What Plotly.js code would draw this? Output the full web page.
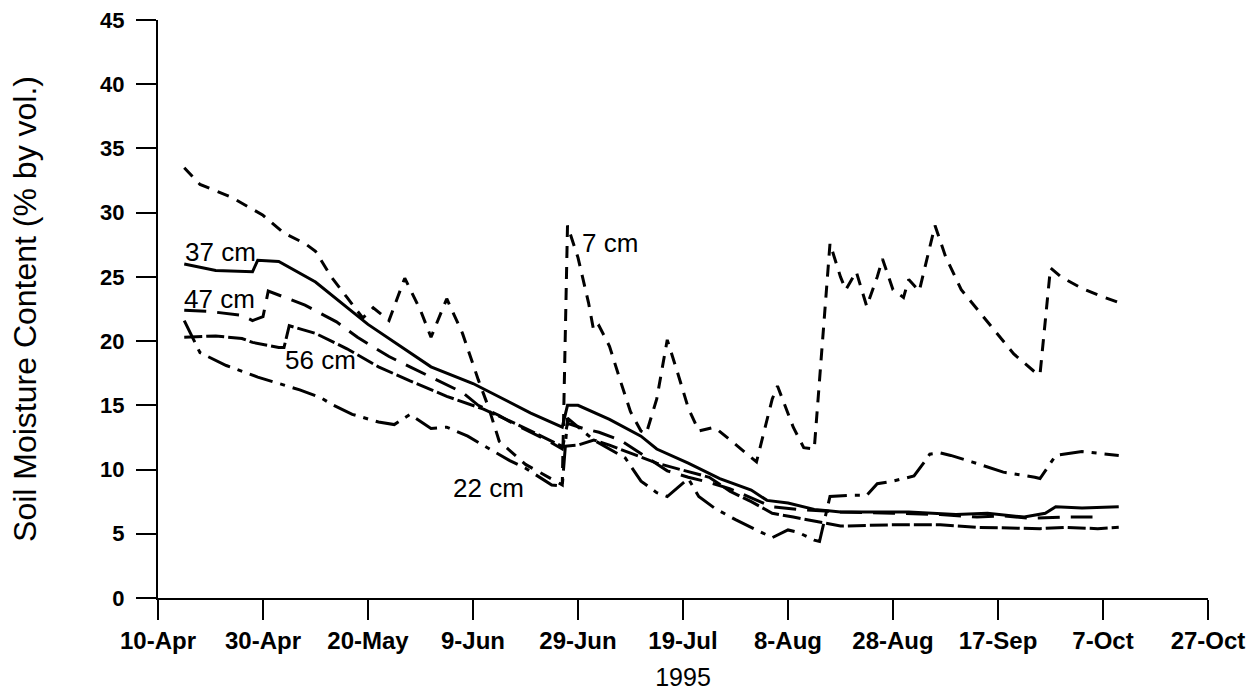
<!DOCTYPE html>
<html>
<head>
<meta charset="utf-8">
<script src="https://cdn.plot.ly/plotly-3.0.1.min.js"></script>
<style>
html,body{margin:0;padding:0;background:#fff;}
#chart{width:1260px;height:695px;}
</style>
</head>
<body>
<div id="chart"></div>
<script>
// ---- data (1995 soil moisture, % by volume) ----
const tickDates = ['1995-04-10','1995-04-30','1995-05-20','1995-06-09','1995-06-29','1995-07-19','1995-08-08','1995-08-28','1995-09-17','1995-10-07','1995-10-27'];
const tickLabels = ['10-Apr','30-Apr','20-May','9-Jun','29-Jun','19-Jul','8-Aug','28-Aug','17-Sep','7-Oct','27-Oct'];

const dates7 = ['1995-04-15','1995-04-18','1995-04-24','1995-04-30','1995-05-04','1995-05-08','1995-05-10','1995-05-13','1995-05-16','1995-05-19','1995-05-21','1995-05-24','1995-05-27','1995-05-30','1995-06-01','1995-06-04','1995-06-07','1995-06-10','1995-06-12','1995-06-14','1995-06-19','1995-06-25','1995-06-26','1995-06-27','1995-06-29','1995-07-01','1995-07-02','1995-07-03','1995-07-05','1995-07-07','1995-07-09','1995-07-11','1995-07-12','1995-07-14','1995-07-16','1995-07-18','1995-07-20','1995-07-22','1995-07-25','1995-07-28','1995-07-31','1995-08-02','1995-08-05','1995-08-06','1995-08-09','1995-08-11','1995-08-13','1995-08-16','1995-08-18','1995-08-19','1995-08-21','1995-08-23','1995-08-25','1995-08-26','1995-08-28','1995-08-30','1995-08-31','1995-09-02','1995-09-05','1995-09-07','1995-09-10','1995-09-13','1995-09-16','1995-09-20','1995-09-24','1995-09-25','1995-09-27','1995-09-29','1995-10-03','1995-10-06','1995-10-10'];
const vals7 = [33.5,32.2,31.2,29.8,28.4,27.6,27.0,25.0,23.4,21.8,22.6,21.6,24.9,22.4,20.3,23.3,20.6,17.0,14.8,12.2,10.4,9.0,8.8,29.0,26.5,23.0,20.8,21.2,19.6,17.0,14.5,13.0,12.8,15.5,20.1,17.5,14.8,13.0,13.3,12.3,11.3,10.6,15.5,16.5,13.3,11.7,11.6,27.6,25.0,24.0,25.4,22.7,25.0,26.4,24.0,23.4,24.8,23.9,29.0,26.6,24.0,22.5,21.0,19.0,17.6,17.4,25.7,25.0,24.1,23.6,23.0];

const dates22 = ['1995-04-15','1995-04-18','1995-04-23','1995-04-29','1995-05-07','1995-05-11','1995-05-13','1995-05-17','1995-05-22','1995-05-25','1995-05-28','1995-06-01','1995-06-04','1995-06-08','1995-06-13','1995-06-16','1995-06-19','1995-06-24','1995-06-26','1995-06-27','1995-07-02','1995-07-08','1995-07-11','1995-07-14','1995-07-16','1995-07-20','1995-07-22','1995-07-25','1995-07-29','1995-08-01','1995-08-05','1995-08-08','1995-08-10','1995-08-13','1995-08-14','1995-08-16','1995-08-20','1995-08-23','1995-08-25','1995-08-28','1995-09-01','1995-09-03','1995-09-04','1995-09-06','1995-09-08','1995-09-12','1995-09-18','1995-09-24','1995-09-25','1995-09-28','1995-10-03','1995-10-10'];
const vals22 = [21.6,19.1,18.1,17.2,16.2,15.6,15.1,14.3,13.7,13.5,14.3,13.2,13.3,12.6,11.4,10.7,10.1,8.8,8.7,14.0,12.3,10.9,9.1,8.2,7.9,9.3,7.9,7.0,6.1,5.5,4.7,5.3,5.1,4.5,4.4,7.9,8.0,8.0,8.9,9.1,9.5,10.6,11.2,11.3,11.1,10.6,9.8,9.4,9.3,11.1,11.4,11.1];

const dates37 = ['1995-04-15','1995-04-21','1995-04-28','1995-04-29','1995-05-03','1995-05-10','1995-05-20','1995-06-01','1995-06-09','1995-06-20','1995-06-26','1995-06-27','1995-06-29','1995-07-05','1995-07-11','1995-07-14','1995-07-20','1995-07-26','1995-08-01','1995-08-04','1995-08-08','1995-08-13','1995-08-18','1995-08-31','1995-09-09','1995-09-15','1995-09-22','1995-09-26','1995-09-28','1995-10-03','1995-10-10'];
const vals37 = [26.0,25.5,25.4,26.3,26.2,24.6,21.3,18.0,16.7,14.4,13.3,15.0,15.0,13.9,12.6,11.6,10.5,9.3,8.4,7.6,7.4,6.9,6.7,6.7,6.5,6.6,6.3,6.6,7.1,7.0,7.1];

const dates47 = ['1995-04-15','1995-04-20','1995-04-26','1995-04-28','1995-04-30','1995-05-01','1995-05-08','1995-05-14','1995-05-18','1995-05-24','1995-05-28','1995-06-04','1995-06-07','1995-06-10','1995-06-14','1995-06-17','1995-06-23','1995-06-26','1995-06-27','1995-06-30','1995-07-03','1995-07-07','1995-07-12','1995-07-16','1995-07-20','1995-07-24','1995-07-28','1995-08-01','1995-08-05','1995-08-10','1995-08-18','1995-08-28','1995-09-06','1995-09-13','1995-09-18','1995-09-23','1995-09-30','1995-10-05'];
const vals47 = [22.4,22.3,22.0,21.6,21.9,23.9,22.8,21.5,20.3,18.8,18.0,16.6,16.0,15.0,14.2,13.5,12.3,11.6,13.6,13.2,12.9,12.3,11.0,9.9,9.4,9.0,8.5,7.8,7.1,6.9,6.7,6.6,6.5,6.3,6.4,6.2,6.3,6.3];

const dates56 = ['1995-04-15','1995-04-21','1995-04-26','1995-04-28','1995-05-03','1995-05-04','1995-05-05','1995-05-10','1995-05-16','1995-05-22','1995-05-28','1995-06-04','1995-06-11','1995-06-17','1995-06-22','1995-06-26','1995-06-29','1995-07-02','1995-07-05','1995-07-14','1995-07-24','1995-07-28','1995-08-01','1995-08-05','1995-08-09','1995-08-14','1995-08-18','1995-08-28','1995-09-06','1995-09-13','1995-09-25','1995-09-30','1995-10-06','1995-10-10'];
const vals56 = [20.3,20.4,20.2,19.9,19.5,19.5,21.2,20.6,19.4,18.0,16.9,15.7,14.7,13.6,12.6,11.8,11.9,12.3,11.9,10.5,9.4,8.3,7.5,6.6,6.3,5.9,5.6,5.7,5.7,5.5,5.4,5.5,5.4,5.5];

const seriesNames = ['7 cm','22 cm','37 cm','47 cm','56 cm'];
const labelDates = ['1995-06-29 10:00','1995-06-04 19:00','1995-04-14 18:00','1995-04-14 14:00','1995-05-03 19:00'];
const labelValues = [27.6, 8.6, 26.9, 23.3, 18.5];

// ---- styling ----
const tickFontFamily = '"Liberation Sans", Arial, sans-serif';
const textFontFamily = '"Liberation Sans", Arial, sans-serif';
const dashes = ['12px,9px', '24px,8px,5px,8px', 'solid', '22px,11px', '18px,4px'];
const allDates = [dates7, dates22, dates37, dates47, dates56];
const allVals = [vals7, vals22, vals37, vals47, vals56];

const traces = seriesNames.map((n, i) => ({
  type: 'scatter', mode: 'lines', name: n,
  x: allDates[i], y: allVals[i],
  line: {color: '#000', width: 3, dash: dashes[i]},
  hoverinfo: 'x+y+name'
}));

const annotations = seriesNames.map((n, i) => ({
  text: n, x: labelDates[i], y: labelValues[i], xref: 'x', yref: 'y',
  xanchor: 'left', yanchor: 'middle', showarrow: false,
  font: {family: textFontFamily, size: 26, color: '#000'}
}));

const layout = {
  width: 1260, height: 695,
  margin: {l: 158, r: 52, t: 20, b: 97},
  paper_bgcolor: '#fff', plot_bgcolor: '#fff',
  showlegend: false,
  xaxis: {
    type: 'date', range: ['1995-04-10', '1995-10-27'],
    tickmode: 'array', tickvals: tickDates, ticktext: tickLabels,
    ticks: 'outside', ticklen: 20, tickwidth: 2, tickcolor: '#000',
    showline: true, linewidth: 2, linecolor: '#000',
    showgrid: false, zeroline: false,
    tickfont: {family: tickFontFamily, size: 24, color: '#000', weight: 'bold'},
    title: {text: '1995', font: {family: textFontFamily, size: 25, color: '#000'}, standoff: 16}
  },
  yaxis: {
    range: [0, 45], tickmode: 'linear', tick0: 0, dtick: 5,
    ticks: 'outside', ticklen: 20, tickwidth: 2, tickcolor: '#000',
    showline: true, linewidth: 2, linecolor: '#000',
    showgrid: false, zeroline: false,
    tickfont: {family: tickFontFamily, size: 22, color: '#000', weight: 'bold'},
    ticklabelstandoff: 7,
    title: {text: 'Soil Moisture Content (% by vol.)', font: {family: textFontFamily, size: 32, color: '#000'}, standoff: 54}
  },
  annotations: annotations
};

Plotly.newPlot('chart', traces, layout, {displayModeBar: false, staticPlot: true});
</script>
</body>
</html>
